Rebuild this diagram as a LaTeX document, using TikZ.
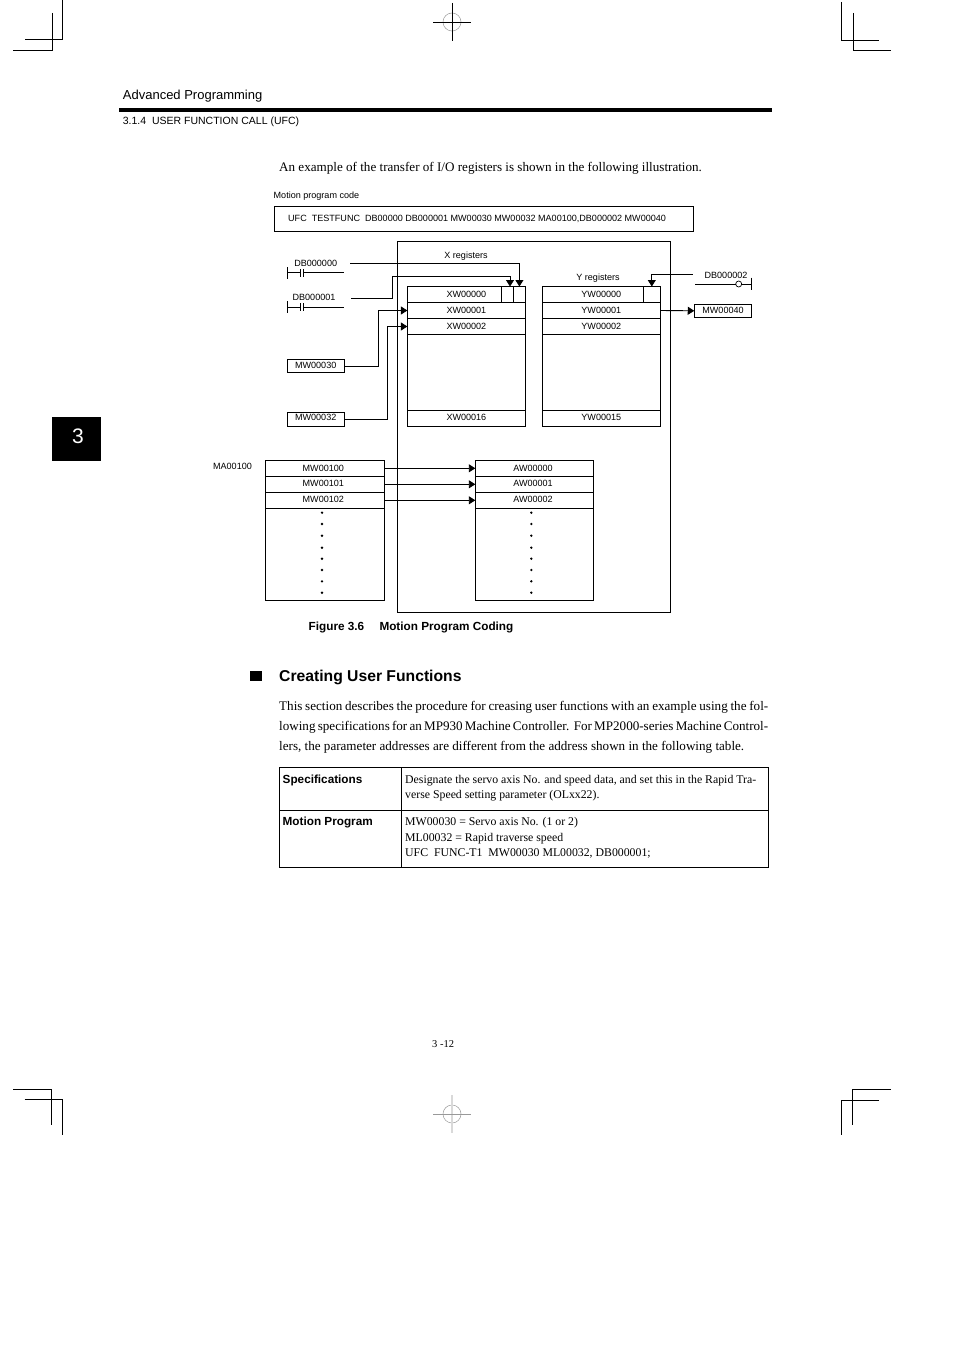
\documentclass[tikz,border=0pt]{standalone}
\usepackage{fontspec}
\setmainfont{Liberation Serif}
\setsansfont{Liberation Sans}
\usetikzlibrary{arrows.meta}
\newcommand{\sansat}[1]{\fontsize{#1}{#1}\selectfont\sffamily}
\newcommand{\serifat}[1]{\fontsize{#1}{#1}\selectfont\rmfamily}
\tikzset{
  every picture/.style={line join=miter, line cap=butt, >={Triangle[length=6.5pt,width=8pt]}},
  rule/.style={line width=0.9pt},
  regrow/.style={draw,line width=0.9pt,minimum width=118pt,minimum height=16pt,inner sep=0pt,outer sep=0pt,font=\sansat{9.05}},
  regcell/.style={draw,line width=0.9pt,minimum height=16pt,inner sep=0pt,outer sep=0pt},
  membox/.style={draw,line width=0.9pt,minimum width=57.5pt,minimum height=13.5pt,inner sep=0pt,outer sep=0pt,font=\sansat{9.05}},
  lbl/.style={inner sep=0pt,font=\sansat{9.05}},
  txt/.style={inner sep=0pt,anchor=base west,font=\serifat{13.1}},
  celltxt/.style={inner sep=0pt,anchor=base west,font=\serifat{11.8}},
  boldtxt/.style={inner sep=0pt,anchor=base west,font=\sansat{11.75}\bfseries},
}
\begin{document}
\begin{tikzpicture}[x=1pt,y=-1pt]
\useasboundingbox (0,0) rectangle (954,1351);
\draw[rule] (62.5,0)--(62.5,39)--(25,39);
\draw[rule] (52,13)--(52,50)--(13,50);
\draw[rule] (841.5,2)--(841.5,40.5)--(879,40.5);
\draw[rule] (853,13)--(853,50.5)--(891,50.5);
\draw[rule] (13,1089.5)--(51.5,1089.5)--(51.5,1124.5);
\draw[rule] (24.5,1099.5)--(62.5,1099.5)--(62.5,1134.5);
\draw[rule] (890.5,1089.5)--(852.5,1089.5)--(852.5,1124.5);
\draw[rule] (879,1100.5)--(841.5,1100.5)--(841.5,1135);
\draw[gray!70,line width=0.6pt] (452,22) circle (9);
\draw[rule] (452,3)--(452,41);
\draw[rule] (433,22)--(471,22);
\draw[gray!70,line width=0.6pt] (452,1114) circle (9);
\draw[gray!30,line width=1.2pt] (452,1095)--(452,1133);
\draw[gray!80,line width=0.7pt] (433,1114)--(471,1114);

\node[inner sep=0pt,anchor=base west,font=\sansat{13}] (chapter) at (122.7,100) {Advanced Programming};
\fill (119,108.3) rectangle (772,112);
\node[inner sep=0pt,anchor=base west,font=\sansat{10.5}] (section) at (122.7,125) {3.1.4\ \ USER FUNCTION CALL (UFC)};
\fill (52,417) rectangle (100.7,461);
\node[text=white,inner sep=0pt,font=\sansat{21}] (tabnum) at (78,436) {3};

\node[txt] (intro) at (279,172) {An example of the transfer of I/O registers is shown in the following illustration.};
\node[lbl,anchor=west] (codelabel) at (273.5,196) {Motion program code};
\draw[rule] (274,206) rectangle (693,231);
\node[lbl,anchor=west] (codetext) at (288,219) {UFC\ \ TESTFUNC\ \ DB00000 DB000001 MW00030 MW00032 MA00100,DB000002 MW00040};
\draw[rule] (397,241) rectangle (670,612);

\node[lbl] (xtitle) at (466,256) {X registers};
\node[lbl] (ytitle) at (598,278) {Y registers};
\foreach \n/\y/\t/\d in {xa/294.5/XW00000/0,xb/310.5/XW00001/0,xc/326.5/XW00002/0,xd/418.3/XW00016/2}
  \node[regrow,text depth=\d pt] (\n) at (466.4,\y) {\t};
\foreach \n/\y/\t/\d in {ya/294.5/YW00000/0,yb/310.5/YW00001/0,yc/326.5/YW00002/0,yd/418.3/YW00015/2}
  \node[regrow,text depth=\d pt] (\n) at (601.3,\y) {\t};
\node[regcell,minimum width=12pt] (xbit) at (507.5,294.5) {};
\node[regcell,minimum width=12pt] (xbittwo) at (519.4,294.5) {};
\node[regcell,minimum width=17pt] (ybit) at (651.8,294.5) {};
\draw[rule] (xc.south west)--(xd.north west)--(xd.north east)--(xc.south east)--cycle;
\draw[rule] (yc.south west)--(yd.north west)--(yd.north east)--(yc.south east)--cycle;

\node[lbl] (dba) at (315.7,263.5) {DB000000};
\node[lbl] (dbb) at (314,297.5) {DB000001};
\node[lbl] (dbc) at (726,275.5) {DB000002};
\coordinate (dbaout) at (350,263);
\coordinate (dbbout) at (351,298);
\coordinate (dbcout) at (692.7,274);
\coordinate (dbbbend) at (392,276);
\draw[rule] (287,267)--(287,279) (287,272.5)--(300,272.5) (300,269)--(300,276.7) (303,269)--(303,276.7) (303,272.5)--(343.5,272.5);
\draw[rule] (287,301)--(287,313) (287,307.3)--(300,307.3) (300,303)--(300,311) (303,303)--(303,311) (303,307.3)--(343.5,307.3);
\draw[rule] (695,284)--(735.7,284) (741.7,284)--(751,284) (751,277.7)--(751,290);
\draw[line width=0.7pt] (738.7,284) circle (3);

\node[membox,text depth=2pt] (mwa) at (315.7,366) {MW00030};
\node[membox,text depth=4pt] (mwb) at (315.7,419.2) {MW00032};
\node[membox] (mwc) at (723,310.8) {MW00040};
\draw[rule,->] (dbaout) -| (xbittwo.north);
\draw[rule,->] (dbbout) -| (dbbbend) -| ([xshift=2.5pt]xbit.north);
\draw[rule,->] (dbcout) -| (ybit.north);
\draw[rule,->] (mwa.east) -- ++(34.2,0) |- (xb.west);
\draw[rule,->] (mwb.east) -- ++(43.2,0) |- (xc.west);
\draw[rule,->] (yb.east) -- (mwc.west);

\node[lbl] (ma) at (232.5,466) {MA00100};
\foreach \n/\m/\y/\s/\t/\d in {pa/aa/468.3/MW00100/AW00000/0,pb/ab/484.3/MW00101/AW00001/2,pc/ac/500.3/MW00102/AW00002/2}{
  \node[regrow,minimum width=119pt,text depth=\d pt] (\n) at (324.8,\y) {\s\kern3pt};
  \node[regrow,text depth=\d pt] (\m) at (534.3,\y) {\t\kern2.6pt};
  \draw[rule,->] (\n.east) -- (\m.west);
}
\draw[rule] (pc.south west)--(265.3,600.3)--(384.3,600.3)--(pc.south east);
\draw[rule] (ac.south west)--(475.3,600.3)--(593.3,600.3)--(ac.south east);
\foreach \y in {512.7,524,535.7,547.7,558.7,570,581.3,592.7}{
  \fill (322,\y) circle (1.3);
  \fill (531.3,\y) circle (1.3);
}
\node[boldtxt] (figno) at (308.5,630) {Figure 3.6};
\node[boldtxt] (figtitle) at (379.3,630) {Motion Program Coding};

\fill (250,670.7) rectangle (262,681.3);
\node[inner sep=0pt,anchor=base west,font=\sansat{15.7}\bfseries] (head) at (279,681) {Creating User Functions};
\node[txt] (paraone) at (279,710) {\makebox[489pt][s]{This section describes the procedure for creasing user functions with an example using the fol-}};
\node[txt] (paratwo) at (279,730) {\makebox[489pt][s]{lowing specifications for an MP930 Machine Controller.\ \ For MP2000-series Machine Control-}};
\node[txt] (parathree) at (279,750) {lers, the parameter addresses are different from the address shown in the following table.};

\draw[rule] (279.3,767.3) rectangle (768.5,867.3);
\draw[rule] (279.3,810.3)--(768.5,810.3);
\draw[rule] (401.3,767.3)--(401.3,867.3);
\node[boldtxt] (speclabel) at (282.5,783) {Specifications};
\node[boldtxt] (proglabel) at (282.5,825.5) {Motion Program};
\node[celltxt] (specone) at (405,783) {\makebox[351pt][s]{Designate the servo axis No. and speed data, and set this in the Rapid Tra-}};
\node[celltxt] (spectwo) at (405,798) {verse Speed setting parameter (OLxx22).};
\node[celltxt] (progone) at (405,825) {MW00030 = Servo axis No. (1 or 2)};
\node[celltxt] (progtwo) at (405,841) {ML00032 = Rapid traverse speed};
\node[celltxt] (progthree) at (405,856) {UFC\ \ FUNC-T1\ \ MW00030 ML00032, DB000001;};
\node[inner sep=0pt,anchor=base west,font=\serifat{10.5}] (pageno) at (432,1047) {3 -12};
\end{tikzpicture}
\end{document}
